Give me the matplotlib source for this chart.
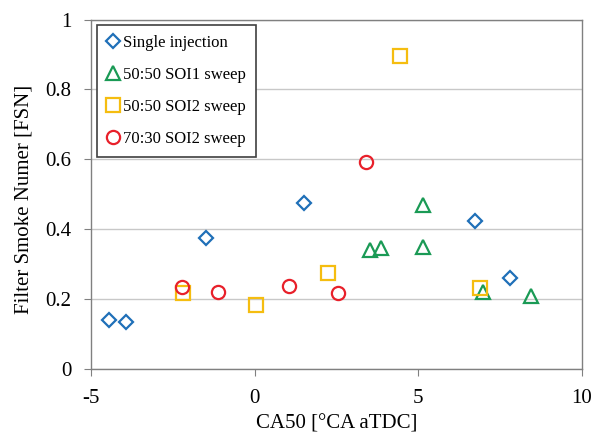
import matplotlib
matplotlib.use("Agg")
import matplotlib.pyplot as plt
from matplotlib.ticker import FuncFormatter

plt.rcParams["font.family"] = ["Liberation Serif", "DejaVu Serif"]
plt.rcParams["axes.unicode_minus"] = False

single_x = [-4.45, -3.94, -1.47, 1.50, 6.74, 7.82]
single_y = [0.141, 0.136, 0.376, 0.476, 0.423, 0.260]

soi1_x = [3.53, 3.85, 5.16, 5.14, 6.99, 8.46]
soi1_y = [0.340, 0.347, 0.470, 0.351, 0.222, 0.209]

soi2_x = [-2.18, 0.06, 2.24, 4.46, 6.88]
soi2_y = [0.218, 0.184, 0.276, 0.895, 0.233]

r7030_x = [-2.22, -1.11, 1.04, 2.55, 3.40]
r7030_y = [0.236, 0.222, 0.239, 0.217, 0.593]

fig = plt.figure(figsize=(6.06, 4.34), dpi=100)
ax = fig.add_axes([0.150, 0.149, 0.810, 0.806])

ax.plot(single_x, single_y, linestyle="none", marker="D", markersize=6.8,
        markerfacecolor="white", markeredgecolor="#1f70b8", markeredgewidth=1.6,
        label="Single injection")
ax.plot(soi1_x, soi1_y, linestyle="none", marker="^", markersize=10,
        markerfacecolor="none", markeredgecolor="#1a9a55", markeredgewidth=1.6,
        label="50:50 SOI1 sweep")
ax.plot(soi2_x, soi2_y, linestyle="none", marker="s", markersize=9.5,
        markerfacecolor="none", markeredgecolor="#f5bd10", markeredgewidth=1.6,
        label="50:50 SOI2 sweep")
ax.plot(r7030_x, r7030_y, linestyle="none", marker="o", markersize=9.5,
        markerfacecolor="none", markeredgecolor="#e8202a", markeredgewidth=1.6,
        label="70:30 SOI2 sweep")

ax.set_xlim(-5, 10)
ax.set_ylim(0, 1)
ax.set_xticks([-5, 0, 5, 10])
ax.set_yticks([0, 0.2, 0.4, 0.6, 0.8, 1])
ax.yaxis.set_major_formatter(FuncFormatter(lambda v, p: f"{v:g}"))
ax.grid(axis="y", color="#c8c8c8", linewidth=1)
ax.set_axisbelow(True)
for s in ax.spines.values():
    s.set_color("#808080")
    s.set_linewidth(1)
ax.tick_params(direction="out", length=5, color="#808080", labelsize=15)
ax.tick_params(axis="x", pad=9)
ax.tick_params(axis="y", pad=9)

ax.set_xlabel("CA50 [°CA aTDC]", fontsize=15, labelpad=5)
ax.set_ylabel("Filter Smoke Numer [FSN]", fontsize=15)
ax.yaxis.set_label_coords(-0.116, 0.487)

leg = ax.legend(loc="upper left", bbox_to_anchor=(0.012, 0.984), fontsize=12,
                handlelength=0.8, handletextpad=0.2, labelspacing=0.95,
                borderpad=0.6, fancybox=False, framealpha=1, borderaxespad=0)
leg.get_frame().set_edgecolor("#404040")
leg.get_frame().set_linewidth(1.2)

fig.savefig("out.png", dpi=100)
